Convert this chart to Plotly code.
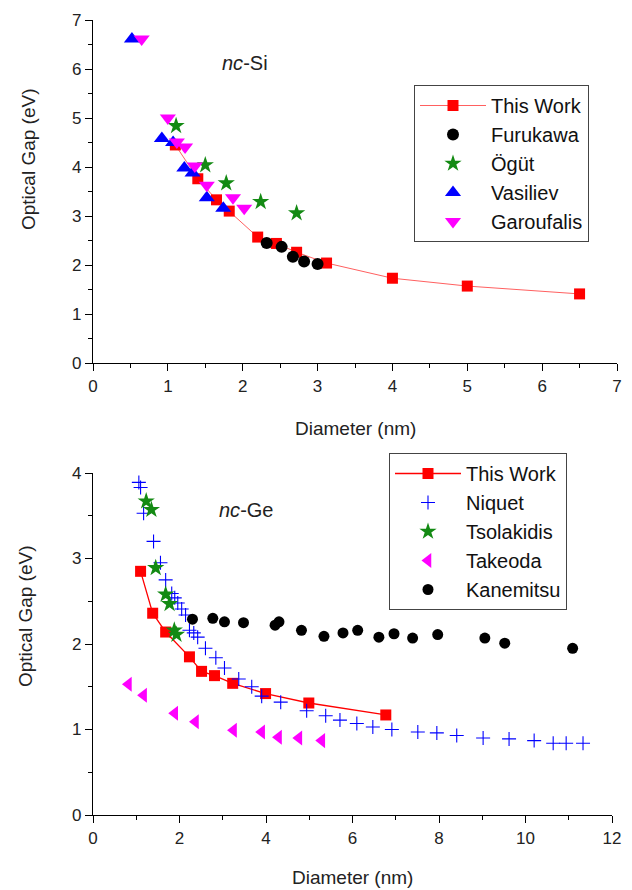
import plotly.graph_objects as go

# ---------------- nc-Si data ----------------
si_tw_x = [1.1, 1.4, 1.65, 1.82, 2.2, 2.45, 2.72, 3.12, 4.0, 5.0, 6.5]
si_tw_y = [4.45, 3.76, 3.33, 3.10, 2.57, 2.44, 2.26, 2.04, 1.73, 1.57, 1.41]
furukawa_x = [2.32, 2.52, 2.67, 2.82, 3.0]
furukawa_y = [2.45, 2.37, 2.17, 2.07, 2.02]
ogut_x = [1.11, 1.5, 1.78, 2.24, 2.72]
ogut_y = [4.84, 4.04, 3.67, 3.29, 3.06]
vasiliev_x = [0.52, 0.92, 1.07, 1.22, 1.33, 1.52, 1.74]
vasiliev_y = [6.61, 4.58, 4.50, 3.98, 3.88, 3.37, 3.16]
garoufalis_x = [0.65, 1.0, 1.12, 1.23, 1.36, 1.52, 1.87, 2.02]
garoufalis_y = [6.61, 5.0, 4.51, 4.41, 4.02, 3.63, 3.37, 3.16]

# ---------------- nc-Ge data ----------------
ge_tw_x = [1.10, 1.38, 1.68, 2.23, 2.51, 2.81, 3.23, 3.99, 4.99, 6.77]
ge_tw_y = [2.85, 2.36, 2.14, 1.85, 1.68, 1.63, 1.54, 1.42, 1.31, 1.17]
niquet_x = [1.06, 1.10, 1.17, 1.40, 1.56, 1.68, 1.82, 1.89, 1.96, 2.05, 2.14, 2.23,
            2.33, 2.42, 2.60, 2.84, 3.04, 3.37, 3.67, 3.90, 4.34, 4.94, 5.38, 5.71,
            6.10, 6.47, 6.91, 7.51, 7.95, 8.41, 9.02, 9.62, 10.2, 10.64, 10.94, 11.33]
niquet_y = [3.89, 3.83, 3.53, 3.20, 2.95, 2.75, 2.59, 2.54, 2.48, 2.41, 2.34, 2.16,
            2.13, 2.08, 1.95, 1.84, 1.72, 1.59, 1.50, 1.39, 1.32, 1.22, 1.16, 1.11,
            1.07, 1.03, 1.00, 0.97, 0.96, 0.93, 0.90, 0.89, 0.87, 0.84, 0.84, 0.84]
tsolakidis_x = [1.23, 1.35, 1.45, 1.68, 1.77, 1.88, 1.93]
tsolakidis_y = [3.67, 3.57, 2.89, 2.58, 2.47, 2.16, 2.11]
takeoda_x = [0.82, 1.17, 1.89, 2.37, 3.25, 3.9, 4.29, 4.76, 5.29]
takeoda_y = [1.53, 1.40, 1.19, 1.09, 0.99, 0.97, 0.91, 0.90, 0.87]
kanemitsu_x = [2.30, 2.77, 3.04, 3.48, 4.21, 4.30, 4.82, 5.34, 5.78, 6.12, 6.61,
               6.96, 7.39, 7.97, 9.06, 9.52, 11.09]
kanemitsu_y = [2.29, 2.30, 2.26, 2.25, 2.22, 2.26, 2.16, 2.09, 2.13, 2.16, 2.08,
               2.12, 2.07, 2.11, 2.07, 2.01, 1.95]

FONT = "Liberation Sans, Arial, sans-serif"
RED = "#ff0000"
LINE_RED = "#ff6060"
GREEN = "#138a13"
BLUE = "#0000ff"
MAGENTA = "#ff00ff"

fig = go.Figure()

# top panel
fig.add_trace(go.Scatter(x=si_tw_x, y=si_tw_y, mode="lines+markers", name="This Work",
                         line=dict(color=LINE_RED, width=1),
                         marker=dict(symbol="square", size=11, color=RED),
                         xaxis="x", yaxis="y", legend="legend"))
fig.add_trace(go.Scatter(x=furukawa_x, y=furukawa_y, mode="markers", name="Furukawa",
                         marker=dict(symbol="circle", size=12, color="black"),
                         xaxis="x", yaxis="y", legend="legend"))
fig.add_trace(go.Scatter(x=ogut_x, y=ogut_y, mode="markers", name="Ögüt",
                         marker=dict(symbol="star", size=13, color=GREEN),
                         xaxis="x", yaxis="y", legend="legend"))
fig.add_trace(go.Scatter(x=vasiliev_x, y=vasiliev_y, mode="markers", name="Vasiliev",
                         marker=dict(symbol="triangle-up", size=14, color=BLUE),
                         xaxis="x", yaxis="y", legend="legend"))
fig.add_trace(go.Scatter(x=garoufalis_x, y=garoufalis_y, mode="markers", name="Garoufalis",
                         marker=dict(symbol="triangle-down", size=14, color=MAGENTA),
                         xaxis="x", yaxis="y", legend="legend"))

# bottom panel
fig.add_trace(go.Scatter(x=ge_tw_x, y=ge_tw_y, mode="lines+markers", name="This Work",
                         line=dict(color=RED, width=1.3),
                         marker=dict(symbol="square", size=11, color=RED),
                         xaxis="x2", yaxis="y2", legend="legend2"))
fig.add_trace(go.Scatter(x=niquet_x, y=niquet_y, mode="markers", name="Niquet",
                         marker=dict(symbol="cross-thin", size=10, color=BLUE,
                                     line=dict(color=BLUE, width=1.1)),
                         xaxis="x2", yaxis="y2", legend="legend2"))
fig.add_trace(go.Scatter(x=tsolakidis_x, y=tsolakidis_y, mode="markers", name="Tsolakidis",
                         marker=dict(symbol="star", size=13, color=GREEN),
                         xaxis="x2", yaxis="y2", legend="legend2"))
fig.add_trace(go.Scatter(x=takeoda_x, y=takeoda_y, mode="markers", name="Takeoda",
                         marker=dict(symbol="triangle-left", size=13, color=MAGENTA),
                         xaxis="x2", yaxis="y2", legend="legend2"))
fig.add_trace(go.Scatter(x=kanemitsu_x, y=kanemitsu_y, mode="markers", name="Kanemitsu",
                         marker=dict(symbol="circle", size=11, color="black"),
                         xaxis="x2", yaxis="y2", legend="legend2"))

W, H = 632, 890


def ax(domain, rng, dtick, minor, anchor):
    return dict(domain=domain, range=rng, dtick=dtick, tick0=0, automargin=False,
                showgrid=False, zeroline=False, showline=True,
                linecolor="black", linewidth=1.3, ticks="outside",
                ticklen=7, tickwidth=1.3, tickcolor="black",
                tickfont=dict(family=FONT, size=17, color="#222"),
                minor=dict(dtick=minor, tick0=0, ticks="outside", ticklen=4,
                           tickwidth=1.2, tickcolor="black"),
                anchor=anchor, fixedrange=True)


legend_common = dict(font=dict(family=FONT, size=20, color="#111"),
                     bgcolor="white", bordercolor="#444", borderwidth=1,
                     xanchor="left", yanchor="top", itemwidth=66,
                     traceorder="normal")

fig.update_layout(
    width=W, height=H,
    margin=dict(l=0, r=0, t=0, b=0, autoexpand=False),
    paper_bgcolor="white", plot_bgcolor="white",
    font=dict(family=FONT, color="#222"),
    xaxis=ax([93 / W, 617 / W], [0, 7], 1, 0.5, "y"),
    yaxis=ax([1 - 363 / H, 1 - 20 / H], [0, 7], 1, 0.5, "x"),
    xaxis2=ax([93 / W, 612 / W], [0, 12], 2, 1, "y2"),
    yaxis2=ax([1 - 815 / H, 1 - 473 / H], [0, 4], 1, 0.5, "x2"),
    legend=dict(x=414 / W, y=1 - 85 / H, **legend_common),
    legend2=dict(x=389 / W, y=1 - 453 / H, **legend_common),
)

annos = [
    dict(text="<i>nc</i>-Si", x=220 / W, y=1 - 63 / H, xanchor="left", yanchor="middle",
         font=dict(size=20)),
    dict(text="<i>nc</i>-Ge", x=217 / W, y=1 - 510 / H, xanchor="left", yanchor="middle",
         font=dict(size=20)),
    dict(text="Diameter (nm)", x=355 / W, y=1 - 428 / H, xanchor="center", yanchor="middle",
         font=dict(size=19)),
    dict(text="Diameter (nm)", x=352 / W, y=1 - 877 / H, xanchor="center", yanchor="middle",
         font=dict(size=19)),
    dict(text="Optical Gap (eV)", x=28 / W, y=1 - 159 / H, xanchor="center", yanchor="middle",
         textangle=-90, font=dict(size=19)),
    dict(text="Optical Gap (eV)", x=25 / W, y=1 - 616 / H, xanchor="center", yanchor="middle",
         textangle=-90, font=dict(size=19)),
]
for a in annos:
    a.update(xref="paper", yref="paper", showarrow=False)
    a["font"].update(family=FONT, color="#222")
    fig.add_annotation(**a)

fig.write_html("out.html")
